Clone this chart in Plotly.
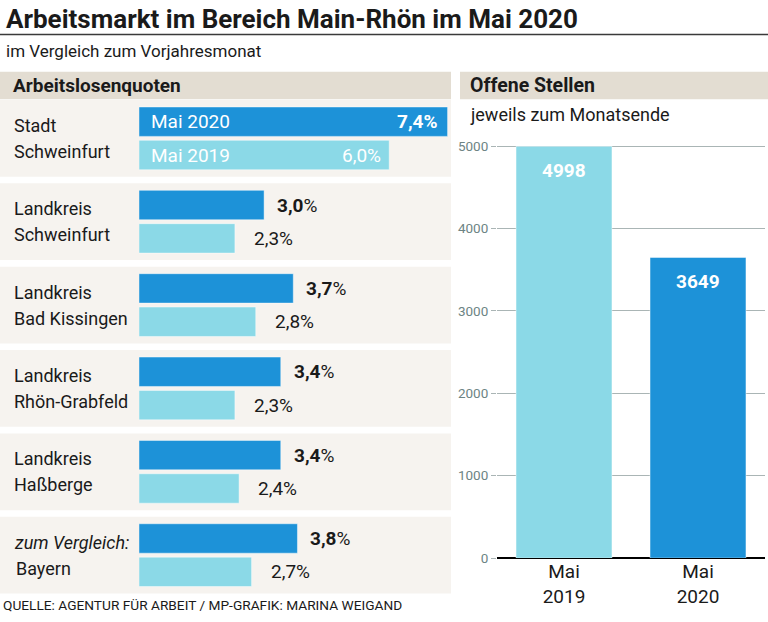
import plotly.graph_objects as go

# ---------------- data ----------------
region_keys = ["Stadt Schweinfurt", "Landkreis Schweinfurt", "Landkreis Bad Kissingen",
               "Landkreis Rhön-Grabfeld", "Landkreis Haßberge", "Bayern"]
region_line1 = ["Stadt", "Landkreis", "Landkreis", "Landkreis", "Landkreis", "<i>zum Vergleich:</i>"]
region_line2 = ["Schweinfurt", "Schweinfurt", "Bad Kissingen", "Rhön-Grabfeld", "Haßberge", "Bayern"]
quote_2020 = [7.4, 3.0, 3.7, 3.4, 3.4, 3.8]
quote_2019 = [6.0, 2.3, 2.8, 2.3, 2.4, 2.7]
series_names = ["Mai 2020", "Mai 2019"]

stellen_labels = ["Mai<br>2019", "Mai<br>2020"]
stellen_values = [4998, 3649]
stellen_ticks = [0, 1000, 2000, 3000, 4000, 5000]

title = "Arbeitsmarkt im Bereich Main-Rhön im Mai 2020"
subtitle = "im Vergleich zum Vorjahresmonat"
left_header = "Arbeitslosenquoten"
right_header = "Offene Stellen"
right_sub = "jeweils zum Monatsende"
source = "QUELLE: AGENTUR FÜR ARBEIT / MP-GRAFIK: MARINA WEIGAND"

# ---------------- style ----------------
W, H = 768, 622
FONT = "Roboto, Arial, sans-serif"
DARK = "#1d92d8"
LIGHT = "#8bd9e7"
PANEL = "#f6f3ef"
HEADER = "#e3ddd2"
TXT = "#1a1a1a"
GRID = "#aab5b5"
TICK = "#6d8484"
LEFT_W = 451


def px(x):
    return x / W


def py(y):
    return 1 - y / H


def fmt(v):
    return f"{v:.1f}".replace(".", ",")


fig = go.Figure()

# left: grouped horizontal bars
fig.add_trace(go.Bar(name=series_names[0], y=region_keys, x=quote_2020, orientation="h",
                     marker=dict(color=DARK, line=dict(color="rgba(255,255,255,0.45)", width=1)),
                     xaxis="x", yaxis="y", hoverinfo="skip"))
fig.add_trace(go.Bar(name=series_names[1], y=region_keys, x=quote_2019, orientation="h",
                     marker=dict(color=LIGHT, line=dict(color="rgba(255,255,255,0.45)", width=1)),
                     xaxis="x", yaxis="y", hoverinfo="skip"))

# right: vertical bars
fig.add_trace(go.Bar(x=stellen_labels, y=stellen_values, width=0.716,
                     marker=dict(color=[LIGHT, DARK], line=dict(color="rgba(255,255,255,0.45)", width=1)),
                     xaxis="x2", yaxis="y2", hoverinfo="skip"))

scale = 41.7  # px per percent
shapes = []
annotations = []

# header bands
shapes.append(dict(type="rect", xref="paper", yref="paper", x0=0, x1=px(LEFT_W), y0=py(97), y1=py(69),
                   fillcolor=HEADER, line=dict(width=0), layer="below"))
shapes.append(dict(type="rect", xref="paper", yref="paper", x0=px(460), x1=1, y0=py(97), y1=py(69),
                   fillcolor=HEADER, line=dict(width=0), layer="below"))
# title rule
shapes.append(dict(type="line", xref="paper", yref="paper", x0=0, x1=1, y0=py(31), y1=py(31),
                   line=dict(color="#3a3a3a", width=1.5)))

LBL = 18
VAL = 19
for i, key in enumerate(region_keys):
    shapes.append(dict(type="rect", xref="paper", yref="y", x0=0, x1=px(LEFT_W), y0=i - 0.46, y1=i + 0.46,
                       fillcolor=PANEL, line=dict(width=0), layer="below"))
    annotations.append(dict(xref="paper", yref="y", x=px(12), y=i, yshift=13, text=region_line1[i],
                            xanchor="left", yanchor="middle", showarrow=False,
                            font=dict(size=LBL, color=TXT, family=FONT)))
    annotations.append(dict(xref="paper", yref="y", x=px(12 if i < 5 else 14), y=i, yshift=-13,
                            text=region_line2[i], xanchor="left", yanchor="middle", showarrow=False,
                            font=dict(size=LBL, color=TXT, family=FONT)))
    if i == 0:
        annotations.append(dict(xref="x", yref="y", x=quote_2020[i], y=i - 0.2, xshift=-8,
                                text=f"<b>{fmt(quote_2020[i])}%</b>", xanchor="right", showarrow=False,
                                font=dict(size=VAL, color="white", family=FONT)))
        annotations.append(dict(xref="x", yref="y", x=quote_2019[i], y=i + 0.2, xshift=-6,
                                text=f"{fmt(quote_2019[i])}%", xanchor="right", showarrow=False,
                                font=dict(size=VAL, color="white", family=FONT)))
        annotations.append(dict(xref="x", yref="y", x=0, y=i - 0.2, xshift=10, text=series_names[0],
                                xanchor="left", showarrow=False, font=dict(size=VAL, color="white", family=FONT)))
        annotations.append(dict(xref="x", yref="y", x=0, y=i + 0.2, xshift=10, text=series_names[1],
                                xanchor="left", showarrow=False, font=dict(size=VAL, color="white", family=FONT)))
    else:
        annotations.append(dict(xref="x", yref="y", x=quote_2020[i], y=i - 0.2, xshift=11,
                                text=f"<b>{fmt(quote_2020[i])}</b>%", xanchor="left", showarrow=False,
                                font=dict(size=VAL, color=TXT, family=FONT)))
        annotations.append(dict(xref="x", yref="y", x=quote_2019[i], y=i + 0.2, xshift=17,
                                text=f"{fmt(quote_2019[i])}%", xanchor="left", showarrow=False,
                                font=dict(size=VAL, color=TXT, family=FONT)))

for j, v in enumerate(stellen_values):
    annotations.append(dict(xref="x2", yref="y2", x=j, y=v, yshift=-11, text=f"<b>{v}</b>",
                            xanchor="center", yanchor="top", showarrow=False,
                            font=dict(size=19, color="white", family=FONT)))

# texts
annotations += [
    dict(xref="paper", yref="paper", x=px(4), y=py(15), text=f"<b>{title}</b>", xanchor="left",
         yanchor="middle", showarrow=False, font=dict(size=26, color=TXT, family=FONT)),
    dict(xref="paper", yref="paper", x=px(4), y=py(48), text=subtitle, xanchor="left",
         yanchor="middle", showarrow=False, font=dict(size=17, color=TXT, family=FONT)),
    dict(xref="paper", yref="paper", x=px(11), y=py(83), text=f"<b>{left_header}</b>", xanchor="left",
         yanchor="middle", showarrow=False, font=dict(size=19, color=TXT, family=FONT)),
    dict(xref="paper", yref="paper", x=px(468), y=py(83), text=f"<b>{right_header}</b>", xanchor="left",
         yanchor="middle", showarrow=False, font=dict(size=19.5, color=TXT, family=FONT)),
    dict(xref="paper", yref="paper", x=px(468), y=py(113), text=right_sub, xanchor="left",
         yanchor="middle", showarrow=False, font=dict(size=18, color=TXT, family=FONT)),
    dict(xref="paper", yref="paper", x=px(1), y=py(613), text=source, xanchor="left",
         yanchor="middle", showarrow=False, font=dict(size=13.7, color=TXT, family=FONT)),
]

fig.update_layout(
    autosize=True, margin=dict(l=0, r=0, t=0, b=0),
    paper_bgcolor="white", plot_bgcolor="rgba(0,0,0,0)",
    barmode="group", bargap=0.2, bargroupgap=0.118,
    showlegend=False, font=dict(family=FONT, color=TXT),
    shapes=shapes, annotations=annotations,
    xaxis=dict(domain=[px(139), px(139 + 7.5 * scale)], range=[0, 7.5], anchor="y",
               visible=False, fixedrange=True),
    yaxis=dict(domain=[py(604.5), py(94.5)], type="category", categoryarray=region_keys,
               range=[5.5, -0.5], anchor="x", visible=False, fixedrange=True),
    xaxis2=dict(domain=[px(497), px(765)], range=[-0.5, 1.5], type="category", anchor="y2",
                showgrid=False, showline=False, ticks="", tickfont=dict(size=19, color=TXT, family=FONT),
                fixedrange=True),
    yaxis2=dict(domain=[py(565), py(140.8)], range=[0, 5050], anchor="x2", tickvals=stellen_ticks,
                showgrid=True, gridcolor=GRID, gridwidth=1, ticks="outside", ticklen=5, tickcolor=GRID,
                tickfont=dict(size=13.5, color=TICK, family=FONT), zeroline=True, zerolinecolor="black",
                zerolinewidth=2, showline=False, fixedrange=True),
)

page_fix = (
    "document.documentElement.style.margin='0';"
    "document.documentElement.style.padding='0';"
    "document.body.style.margin='0';"
    "document.body.style.padding='0';"
    "document.body.style.overflow='hidden';"
)

fig.write_html("out.html", config={"displayModeBar": False, "responsive": True},
               default_width="100vw", default_height="100vh", post_script=page_fix)
